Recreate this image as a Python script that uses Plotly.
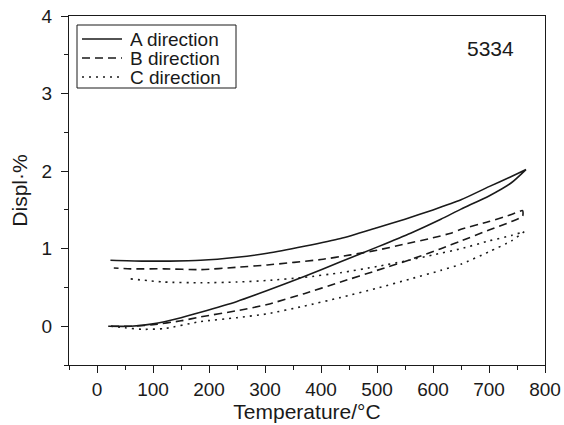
import plotly.graph_objects as go

# ---- data ----
A_heat_T = [20, 60, 100, 150, 185, 250, 304, 370, 435, 500, 560, 614, 650, 700, 740, 766]
A_heat_D = [0.0, 0.0, 0.03, 0.11, 0.18, 0.32, 0.46, 0.64, 0.83, 1.02, 1.20, 1.38, 1.51, 1.68, 1.85, 2.02]
A_cool_T = [766, 740, 700, 650, 600, 550, 500, 435, 370, 304, 250, 185, 130, 80, 24]
A_cool_D = [2.02, 1.93, 1.80, 1.63, 1.50, 1.38, 1.27, 1.13, 1.03, 0.94, 0.89, 0.85, 0.84, 0.84, 0.85]

B_heat_T = [25, 60, 100, 150, 185, 250, 304, 370, 435, 500, 560, 614, 650, 700, 740, 760]
B_heat_D = [0.0, 0.0, 0.02, 0.07, 0.12, 0.20, 0.28, 0.42, 0.57, 0.72, 0.86, 1.00, 1.10, 1.24, 1.35, 1.42]
B_cool_T = [760, 740, 700, 650, 632, 600, 550, 500, 453, 400, 304, 250, 185, 120, 60, 30]
B_cool_D = [1.49, 1.44, 1.35, 1.25, 1.20, 1.14, 1.06, 0.98, 0.92, 0.86, 0.79, 0.76, 0.73, 0.74, 0.74, 0.75]

C_heat_T = [25, 50, 80, 120, 185, 250, 304, 370, 435, 500, 560, 614, 650, 700, 740, 763]
C_heat_D = [0.0, -0.02, -0.04, -0.03, 0.06, 0.11, 0.16, 0.26, 0.37, 0.49, 0.61, 0.72, 0.80, 0.96, 1.10, 1.22]
C_cool_T = [763, 740, 700, 650, 600, 550, 500, 435, 370, 304, 250, 185, 120, 60]
C_cool_D = [1.22, 1.17, 1.10, 1.00, 0.92, 0.84, 0.77, 0.69, 0.63, 0.59, 0.57, 0.56, 0.57, 0.61]

series_names = ["A direction", "B direction", "C direction"]
x_tick_vals = [0, 100, 200, 300, 400, 500, 600, 700, 800]
y_tick_vals = [0, 1, 2, 3, 4]
sample_label = "5334"

INK = "#1a1a1a"
FONT = "Liberation Sans, Arial, Helvetica, sans-serif"
W, H = 564, 425
ML, MR, MT, MB = 69, 19, 16, 60
PW, PH = W - ML - MR, H - MT - MB

def px2paper(x, y):
    """page pixel -> paper coords"""
    return (x - ML) / PW, 1 - (y - MT) / PH

fig = go.Figure()
dashes = ["solid", "8px,5px", "2px,5px"]
specs = [
    (A_heat_T + A_cool_T, A_heat_D + A_cool_D),
    (B_heat_T + B_cool_T, B_heat_D + B_cool_D),
    (C_heat_T + C_cool_T, C_heat_D + C_cool_D),
]
for name, (xs, ys), dash in zip(series_names, specs, dashes):
    fig.add_trace(go.Scatter(
        x=xs, y=ys, mode="lines", name=name, showlegend=False,
        line=dict(color=INK, width=1.6, dash=dash, shape="spline", smoothing=0.6),
    ))

fig.add_annotation(x=703, y=3.58, text=sample_label, showarrow=False,
                   font=dict(family=FONT, size=21, color=INK))

# ---- hand-built legend ----
bx0, by0 = px2paper(77, 25)
bx1, by1 = px2paper(236, 88)
fig.add_shape(type="rect", xref="paper", yref="paper", x0=bx0, y0=by1, x1=bx1, y1=by0,
              line=dict(color=INK, width=1), fillcolor="white", layer="above")
row_y = [39, 58, 77]
for name, dash, ry in zip(series_names, dashes, row_y):
    lx0, ly = px2paper(82, ry)
    lx1, _ = px2paper(122, ry)
    fig.add_shape(type="line", xref="paper", yref="paper", x0=lx0, y0=ly, x1=lx1, y1=ly,
                  line=dict(color=INK, width=1.6, dash=dash), layer="above")
    tx, _ = px2paper(129, ry)
    fig.add_annotation(xref="paper", yref="paper", x=tx, y=ly, text=name, showarrow=False,
                       xanchor="left", yanchor="middle", height=18, borderpad=0,
                       font=dict(family=FONT, size=19, color=INK))

axis_common = dict(
    showline=True, linecolor=INK, linewidth=1, mirror=True,
    ticks="outside", ticklen=7, tickwidth=1, tickcolor=INK,
    showgrid=False, zeroline=False, automargin=False,
    tickfont=dict(family=FONT, size=19, color=INK),
)

fig.update_xaxes(range=[-50, 800], tickvals=x_tick_vals,
                 title=dict(text="Temperature/°C", font=dict(family=FONT, size=21, color=INK), standoff=4),
                 minor=dict(dtick=50, tick0=0, ticks="outside", ticklen=4, tickcolor=INK),
                 **axis_common)
fig.update_yaxes(range=[-0.5, 4], tickvals=y_tick_vals, ticklabelstandoff=5,
                 title=dict(text="Displ·%", font=dict(family=FONT, size=21, color=INK), standoff=8),
                 minor=dict(dtick=0.5, tick0=0, ticks="outside", ticklen=4, tickcolor=INK),
                 **axis_common)

fig.update_layout(
    width=W, height=H,
    margin=dict(l=ML, r=MR, t=MT, b=MB),
    plot_bgcolor="white", paper_bgcolor="white",
    font=dict(family=FONT, color=INK),
    showlegend=False,
)

fig.write_html("out.html", config={"displayModeBar": False},
               post_script="document.body.style.margin='0';document.body.style.overflow='hidden';")
